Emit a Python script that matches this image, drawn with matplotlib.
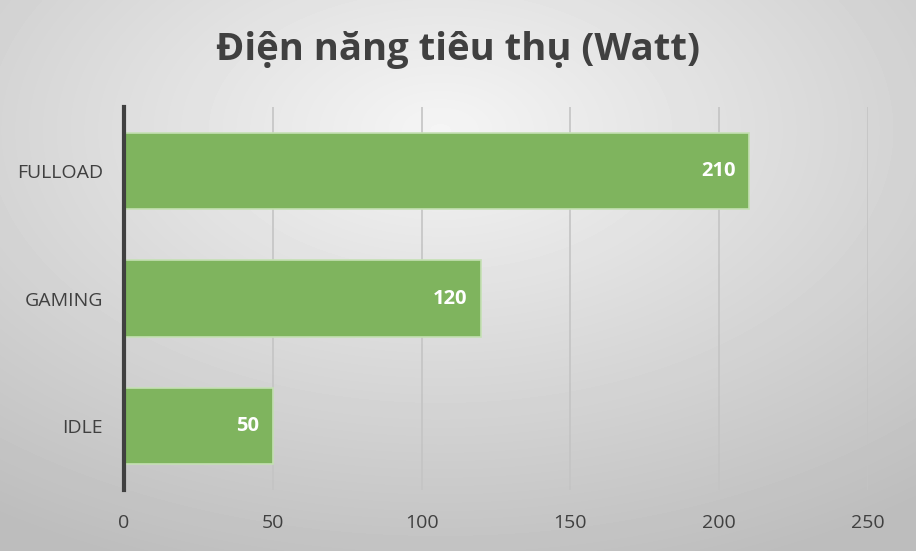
import numpy as np
import matplotlib
matplotlib.use("Agg")
import matplotlib.pyplot as plt

# data
categories = ["IDLE", "GAMING", "FULLOAD"]
watts = [50, 120, 210]
xticks = [0, 50, 100, 150, 200, 250]
title = "Điện năng tiêu thụ (Watt)"

plt.rcParams['font.family'] = ['Open Sans', 'DejaVu Sans']

fig = plt.figure(figsize=(9.16, 5.51), dpi=100)

# radial grey background like the office chart style
bg = fig.add_axes([0, 0, 1, 1], zorder=-10)
yy, xx = np.mgrid[0:551, 0:916]
r = np.sqrt(((xx - 440) / 916.0) ** 2 + ((yy - 130) / 551.0) ** 2)
shade = 0.96 - 0.22 * np.clip(r / 0.85, 0, 1)
bg.imshow(shade, cmap="gray", vmin=0, vmax=1, aspect="auto", extent=[0, 1, 0, 1])
bg.axis("off")

ax = fig.add_axes([0.1354, 0.1107, 0.8122, 0.6951])
ax.patch.set_alpha(0)

bars = ax.barh(categories, watts, height=0.6, color="#7fb45e",
               edgecolor="#c5e0b4", linewidth=1.2, zorder=3)

for b, v in zip(bars, watts):
    ax.text(b.get_width() - 4.5, b.get_y() + b.get_height() / 2, str(v),
            ha="right", va="center", color="white", fontsize=14.5,
            fontweight="bold", zorder=4)

ax.set_xlim(0, 250)
ax.set_ylim(-0.5, 2.5)
ax.set_xticks(xticks)
ax.grid(axis="x", color="#c4c4c4", linewidth=1.2, zorder=0)
ax.set_axisbelow(True)

for s in ["top", "right", "bottom"]:
    ax.spines[s].set_visible(False)
ax.spines["left"].set_color("#404040")
ax.spines["left"].set_linewidth(3)
ax.spines["left"].set_zorder(5)

ax.tick_params(axis="both", length=0, labelsize=14, labelcolor="#404040")
ax.tick_params(axis="x", pad=17)
ax.tick_params(axis="y", pad=15)

fig.text(0.5, 0.91, title, ha="center", va="center", fontsize=27.5,
         fontweight="bold", color="#404040")

fig.savefig("out.png", dpi=100)
